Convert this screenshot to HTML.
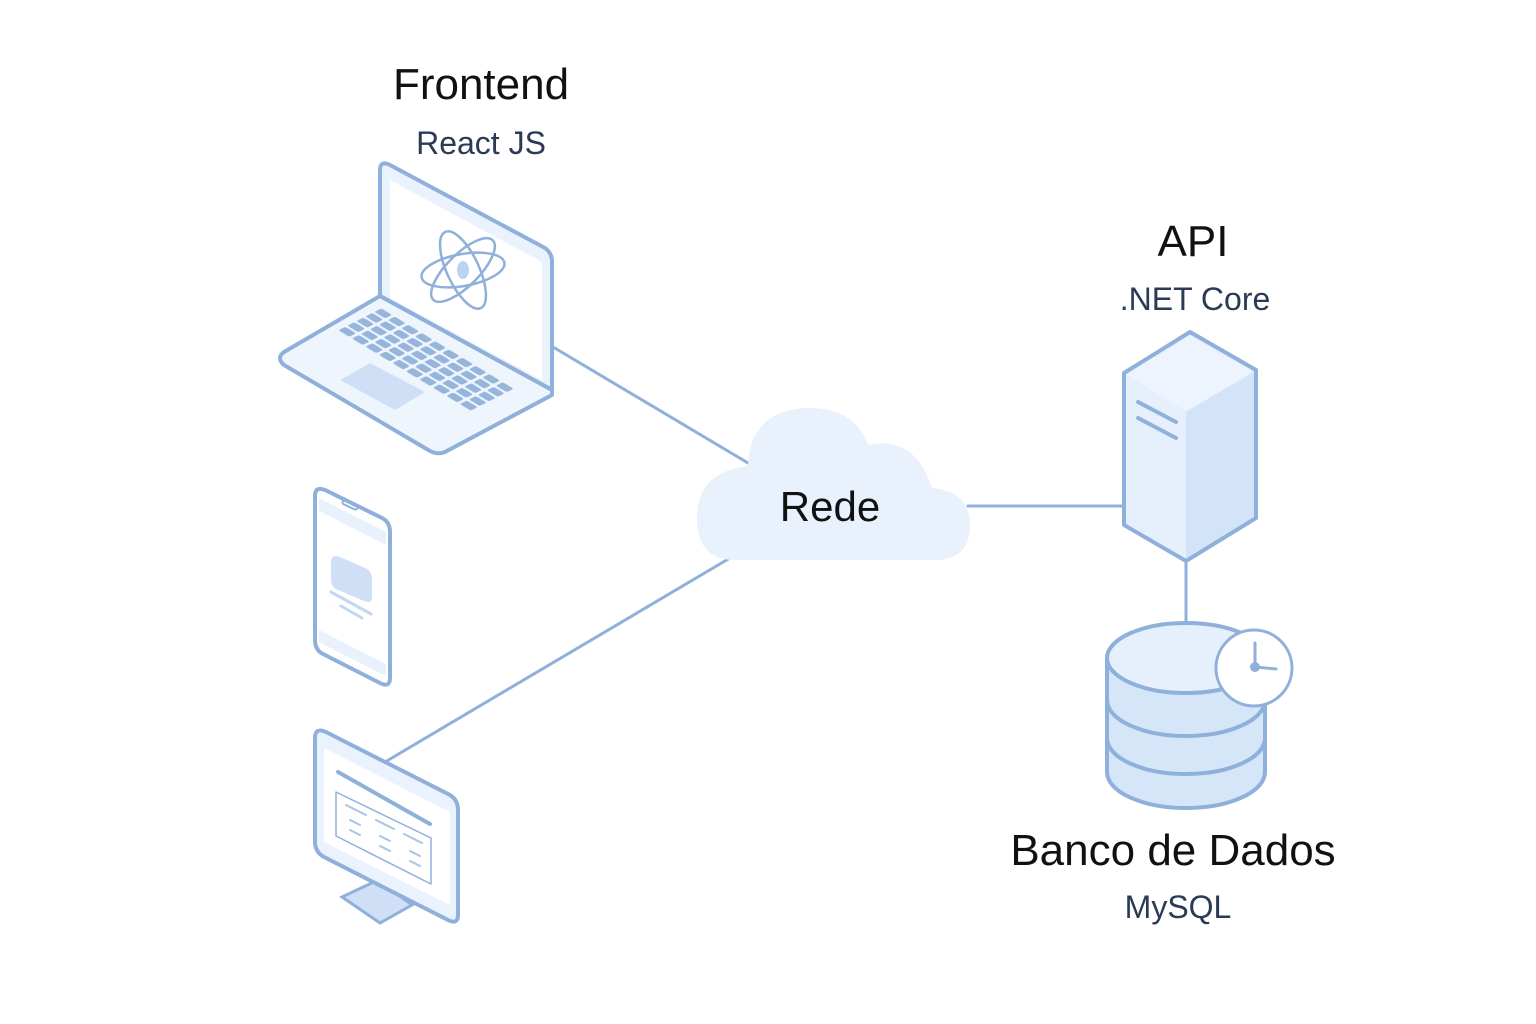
<!DOCTYPE html>
<html><head><meta charset="utf-8"><style>
html,body{margin:0;padding:0;background:#fff;width:1536px;height:1024px;overflow:hidden}
svg{display:block}
text{font-family:"Liberation Sans","DejaVu Sans",sans-serif}
</style></head><body>
<svg width="1536" height="1024" viewBox="0 0 1536 1024" xmlns="http://www.w3.org/2000/svg">
<defs>
<pattern id="keys" patternUnits="userSpaceOnUse" width="1" height="1">
<rect x="0.1" y="0.12" width="0.8" height="0.76" rx="0.15" fill="#97b5da"/>
</pattern>
</defs>
<g stroke="#8fb0da" stroke-width="3" fill="none" stroke-linecap="round">
<line x1="553" y1="347" x2="748" y2="463"/>
<line x1="385" y1="762" x2="730" y2="558"/>
<line x1="968" y1="506" x2="1124" y2="506"/>
<line x1="1186" y1="561" x2="1186" y2="624"/>
</g>
<!-- laptop -->
<g stroke="#8fb0da" stroke-width="4" stroke-linejoin="round">
<path d="M380,170 Q380,160 390,165 L545,248 Q552,253 552,262 L552,390 L380,296 Z" fill="#eaf3fd"/>
<path d="M390,180 L542,262 L542,380 L390,298 Z" fill="#fff" stroke="none"/>
<path d="M380,296 L552,390 L552,395 L445,452 Q438,455 430,451 L284,365 Q276,358 284,352 Z" fill="#eef5fd"/>
</g>
<g fill="none" stroke="#8fb0da" stroke-width="2.5">
<ellipse cx="463" cy="270" rx="16" ry="42" transform="rotate(-25 463 270)"/>
<ellipse cx="463" cy="270" rx="16" ry="42" transform="rotate(-100 463 270)"/>
<ellipse cx="463" cy="270" rx="16" ry="42" transform="rotate(45 463 270)"/>
</g>
<ellipse cx="463" cy="270" rx="6" ry="9" fill="#b9d3f2"/>
<g transform="matrix(13.5,8.2,9,-4.6,336,330)">
<rect x="0" y="0" width="10" height="5" fill="url(#keys)"/>
</g>
<path d="M340,380 L370,363 L425,392 L395,410 Z" fill="#cfe0f6"/>
<!-- phone -->
<path d="M315,496 Q315,486 325,490 L382,518 Q390,522 390,532 L390,678 Q390,688 380,683 L323,654 Q315,650 315,640 Z" fill="#fff" stroke="#8fb0da" stroke-width="4"/>
<path d="M319,498 L386,532 L386,545 L319,511 Z" fill="#e8f1fc"/>
<path d="M319,630 L386,664 L386,676 L319,642 Z" fill="#e8f1fc"/>
<rect x="342" y="503" width="16" height="4" rx="2" fill="none" stroke="#8fb0da" stroke-width="2" transform="rotate(25 350 505)"/>
<path d="M331,562 Q331,554 340,557 L365,568 Q372,571 372,580 L372,598 Q372,604 364,601 L338,590 Q331,587 331,580 Z" fill="#cfe0f6"/>
<g stroke="#c2d7f1" stroke-width="3" stroke-linecap="round"><line x1="331" y1="592" x2="371" y2="614"/><line x1="341" y1="606" x2="362" y2="618"/></g>
<!-- monitor -->
<path d="M342,897 L378,880 L412,905 L380,923 Z" fill="#cfe0f6" stroke="#8fb0da" stroke-width="3"/>
<path d="M315,738 Q315,727 326,732 L450,795 Q458,800 458,810 L458,915 Q458,925 448,920 L324,857 Q315,852 315,842 Z" fill="#eaf3fd" stroke="#8fb0da" stroke-width="4"/>
<path d="M324,748 L450,812 L450,905 L324,842 Z" fill="#fff"/>
<line x1="338" y1="772" x2="430" y2="824" stroke="#8fb0da" stroke-width="4" stroke-linecap="round"/>
<path d="M336,792 L431,838 L431,884 L336,836 Z" fill="none" stroke="#8fb0da" stroke-width="1.5" stroke-linejoin="round"/>
<g stroke="#a9c4e6" stroke-width="2" stroke-linecap="round">
<line x1="346" y1="805" x2="366" y2="815"/><line x1="376" y1="820" x2="394" y2="829"/><line x1="404" y1="834" x2="422" y2="843"/>
<line x1="350" y1="820" x2="360" y2="825"/><line x1="380" y1="836" x2="390" y2="841"/><line x1="410" y1="851" x2="420" y2="856"/>
<line x1="350" y1="830" x2="360" y2="835"/><line x1="380" y1="846" x2="390" y2="851"/><line x1="410" y1="861" x2="420" y2="866"/>
</g>
<!-- cloud -->
<path d="M735,560 Q697,560 697,518 Q697,472 748,466 Q750,410 808,408 Q855,408 868,445 Q915,435 932,488 Q972,492 970,528 Q968,560 935,560 Z" fill="#e8f1fc"/>
<!-- server -->
<g stroke="#8fb0da" stroke-width="4" stroke-linejoin="round">
<path d="M1124,373 L1190,332 L1256,370 L1256,518 L1186,561 L1124,525 Z" fill="#e6f0fc"/>
</g>
<path d="M1186,412 L1254,372 L1254,517 L1186,558 Z" fill="#d3e4f8"/>
<path d="M1127,375 L1190,336 L1252,372 L1186,411 Z" fill="#edf4fd"/>
<g stroke="#8fb0da" stroke-width="4" stroke-linecap="round"><line x1="1138" y1="402" x2="1176" y2="422"/><line x1="1138" y1="418" x2="1176" y2="438"/></g>
<!-- database -->
<g stroke="#8fb0da" stroke-width="4">
<path d="M1107,660 L1107,772 A79,36 0 0 0 1265,772 L1265,660 Z" fill="#d6e6f9"/>
<ellipse cx="1186" cy="658" rx="79" ry="35" fill="#e6f0fc"/>
<path d="M1107,700 A79,36 0 0 0 1265,700" fill="none"/>
<path d="M1107,738 A79,36 0 0 0 1265,738" fill="none"/>
<circle cx="1254" cy="668" r="38" fill="#fff" stroke-width="3"/>
</g>
<g stroke="#8fb0da" stroke-width="3" stroke-linecap="round"><line x1="1255" y1="643" x2="1255" y2="667"/><line x1="1255" y1="667" x2="1276" y2="669"/></g>
<circle cx="1255" cy="667" r="5" fill="#8fb0da"/>
<!-- text -->
<g text-anchor="middle">
<text x="481" y="99" font-size="44" fill="#111">Frontend</text>
<text x="481" y="154" font-size="32" fill="#2b3a55">React JS</text>
<text x="1193" y="256" font-size="44" fill="#111">API</text>
<text x="1195" y="310" font-size="32" fill="#2b3a55">.NET Core</text>
<text x="830" y="521" font-size="42" fill="#111">Rede</text>
<text x="1173" y="865" font-size="44" fill="#111">Banco de Dados</text>
<text x="1178" y="918" font-size="32" fill="#2b3a55">MySQL</text>
</g>
</svg>
</body></html>
